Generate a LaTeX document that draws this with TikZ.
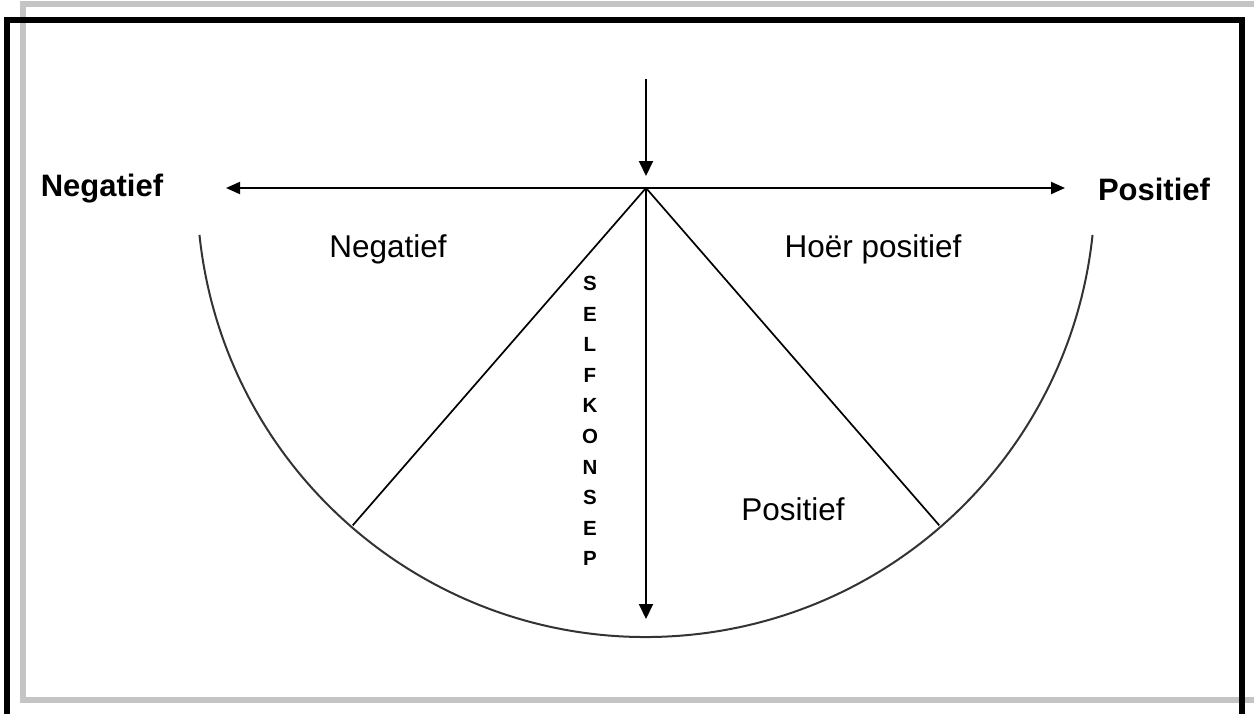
\documentclass[tikz,border=0pt]{standalone}
\usepackage{fontspec}
\setmainfont{Liberation Sans}
\usetikzlibrary{arrows.meta}
\definecolor{framegray}{HTML}{C4C4C4}
\definecolor{arcgray}{HTML}{333333}
\tikzset{
  grayframe/.style={draw=framegray,line width=6pt},
  blackframe/.style={draw=black,line width=6pt},
  axis/.style={draw=black,line width=2pt},
  arrowline/.style={axis,-{Triangle[length=15pt,width=14pt]}},
  bothline/.style={axis,{Triangle[length=14pt,width=12pt]}-{Triangle[length=14pt,width=12pt]}},
  bowl/.style={draw=arcgray,line width=2pt},
  diag/.style={draw=black,line width=1.7pt},
  boldlabel/.style={font=\fontsize{31}{37}\selectfont\bfseries,inner sep=0pt},
  plainlabel/.style={font=\fontsize{31.5}{37}\selectfont,inner sep=0pt},
  vertlabel/.style={font=\fontsize{20.5}{30.6}\selectfont\bfseries,align=center,inner sep=0pt}
}
\begin{document}
\begin{tikzpicture}[x=1pt,y=-1pt]
\useasboundingbox (0,0) rectangle (1254,713);
\clip (0,0) rectangle (1254,713);
\fill[white] (0,0) rectangle (1254,713);
% frames
\draw[grayframe] (1270,4) -- (23,4) -- (23,699.5) -- (1270,699.5);
\draw[blackframe] (7,730) -- (7,20) -- (1241.5,20) -- (1241.5,730);
% geometry
\coordinate (apex) at (646,188);
\coordinate (topstart) at (646,79);
\coordinate (downend) at (646,619);
\coordinate (leftend) at (226,188);
\coordinate (rightend) at (1065,188);
\path (apex) ++(186:449pt) coordinate (arcstart);
\path (apex) ++(229:447pt) coordinate (dleft);
\path (apex) ++(311:447pt) coordinate (dright);
% bowl
\draw[bowl] (arcstart) arc[start angle=186,end angle=354,radius=449pt];
% lines
\draw[diag] (apex) -- (dleft);
\draw[diag] (apex) -- (dright);
\draw[bothline] (leftend) -- (rightend);
\draw[arrowline] (topstart) -- (646,176);
\draw[arrowline] (apex) -- (downend);
% labels
\node[boldlabel] (negbold) at (102,189) {Negatief};
\node[boldlabel] (posbold) at (1154,189) {Positief};
\node[plainlabel] (negplain) at (388,249) {Negatief};
\node[plainlabel] (hoer) at (873,249) {Hoër positief};
\node[plainlabel] (pos) at (793,509) {Positief};
\node[vertlabel,anchor=north] (selfkonsep) at (590,276) {S\\E\\L\\F\\K\\O\\N\\S\\E\\P};
\end{tikzpicture}
\end{document}
